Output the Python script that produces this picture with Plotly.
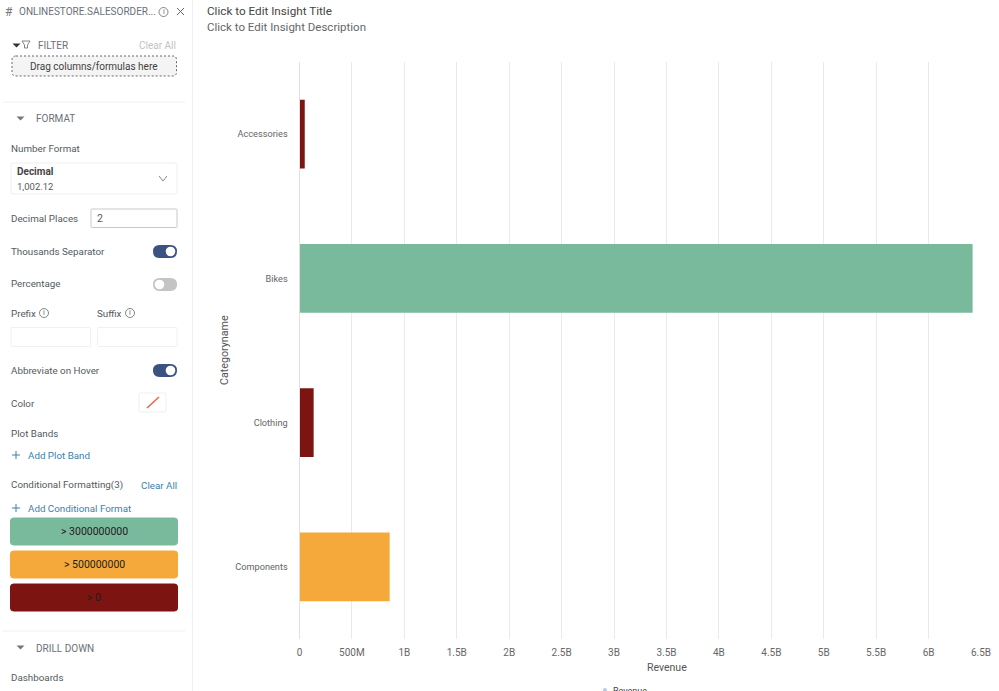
import plotly.graph_objects as go

W, H = 999, 691

categories = ["Accessories", "Bikes", "Clothing", "Components"]
revenue = [50000000, 6420000000, 135000000, 860000000]

tick_vals = [0, 5e8, 1e9, 1.5e9, 2e9, 2.5e9, 3e9, 3.5e9, 4e9, 4.5e9, 5e9, 5.5e9, 6e9, 6.5e9]
tick_text = ["0", "500M", "1B", "1.5B", "2B", "2.5B", "3B", "3.5B", "4B", "4.5B", "5B", "5.5B", "6B", "6.5B"]

thresholds = [3000000000, 500000000, 0]
threshold_colors = ["#7ABA9C", "#F5A93B", "#7C1512"]


def color_for(v):
    for t, c in zip(thresholds, threshold_colors):
        if v > t:
            return c
    return "#cccccc"


fig = go.Figure()
fig.add_trace(go.Bar(
    x=revenue, y=categories, orientation="h", name="Revenue",
    marker=dict(color=[color_for(v) for v in revenue], line_width=0),
    showlegend=False,
))

shapes = []
annots = []


def px(x):
    return x / W


def py(y):
    return 1 - y / H


def text(x, y, s, size=9.8, color="#555a60", anchor="left", **kw):
    annots.append(dict(x=px(x), y=py(y), xref="paper", yref="paper", text=s, showarrow=False,
                       xanchor=anchor, yanchor="middle", font=dict(size=size, color=color), **kw))


def rrect(x0, y0, x1, y1, r=3, fill="#ffffff", line="#ececec", width=1, dash="solid"):
    a, b, c, d = px(x0), py(y0), px(x1), py(y1)
    rx, ry = r / W, r / H
    path = (f"M {a+rx} {b} L {c-rx} {b} Q {c} {b} {c} {b-ry} L {c} {d+ry} Q {c} {d} {c-rx} {d} "
            f"L {a+rx} {d} Q {a} {d} {a} {d+ry} L {a} {b-ry} Q {a} {b} {a+rx} {b} Z")
    shapes.append(dict(type="path", path=path, xref="paper", yref="paper", fillcolor=fill,
                       line=dict(color=line, width=width, dash=dash), layer="below"))


def hline(x0, x1, y, color="#efefef", width=1):
    shapes.append(dict(type="line", xref="paper", yref="paper", x0=px(x0), x1=px(x1), y0=py(y), y1=py(y),
                       line=dict(color=color, width=width)))


def seg(x0, y0, x1, y1, color, width=1):
    shapes.append(dict(type="line", xref="paper", yref="paper", x0=px(x0), x1=px(x1), y0=py(y0), y1=py(y1),
                       line=dict(color=color, width=width)))


def circle(cx, cy, r, fill="#ffffff", line="rgba(0,0,0,0)", width=1):
    shapes.append(dict(type="circle", xref="paper", yref="paper", x0=px(cx - r), x1=px(cx + r),
                       y0=py(cy + r), y1=py(cy - r), fillcolor=fill, line=dict(color=line, width=width)))


def tri(x, y, w=4, h=4, color="#777777"):
    path = f"M {px(x-w)} {py(y-h/2)} L {px(x+w)} {py(y-h/2)} L {px(x)} {py(y+h/2)} Z"
    shapes.append(dict(type="path", path=path, xref="paper", yref="paper", fillcolor=color,
                       line=dict(color=color, width=0)))


def toggle(x0, x1, y, on=True):
    rrect(x0, y - 6.5, x1, y + 6.5, r=6.5, fill="#3B5283" if on else "#c4c4c4", line="rgba(0,0,0,0)")
    circle(x1 - 6.5 if on else x0 + 6.5, y, 4.8)


def info(cx, cy):
    circle(cx, cy, 4.5, fill="rgba(0,0,0,0)", line="#666666", width=0.8)
    text(cx, cy, "i", size=7, color="#666666", anchor="center")


# panel divider
seg(192.5, 0, 192.5, H, "#eef0f2")

# header
text(3, 12, "#", size=12, color="#777777")
text(17, 11.5, "ONLINESTORE.SALESORDER...", size=10, color="#6b7078")
info(163.5, 12)
seg(177, 8, 184, 15, "#666666")
seg(184, 8, 177, 15, "#666666")

# filter
tri(16.5, 45.5, color="#333333")
text(36, 45.5, "FILTER", size=10, color="#6b7078")
text(178, 45.5, "Clear All", size=10, color="#c2c2c2", anchor="right")
path = f"M {px(22)} {py(41)} L {px(30)} {py(41)} L {px(27.5)} {py(45)} L {px(27.5)} {py(48)} L {px(24.5)} {py(48)} L {px(24.5)} {py(45)} Z"
shapes.append(dict(type="path", path=path, xref="paper", yref="paper", line=dict(color="#666666", width=0.8)))
rrect(12, 56, 176.5, 76, r=4, fill="#f4f4f4", line="#666666", dash="2px,2px")
text(94, 66, "Drag columns/formulas here", size=10, color="#3f3f3f", anchor="center")
hline(3, 185, 102)

# format
tri(20.5, 118.5)
text(33.5, 119, "FORMAT", size=10, color="#6b7078")
text(9, 148.5, "Number Format")
rrect(11, 163, 177, 194, r=2, line="#efefef")
text(15, 172, "<b>Decimal</b>", color="#444444", size=10)
text(15, 186.5, "1,002.12", size=9.5)
seg(159, 176, 163, 181, "#888888")
seg(163, 181, 167, 176, "#888888")
text(9, 218, "Decimal Places")
rrect(91, 209, 177, 227.5, r=1, line="#c9c9c9")
text(95, 218, "2", size=10.5)
text(9, 251, "Thousands Separator")
toggle(153, 177, 251.5, True)
text(9, 284, "Percentage")
toggle(153, 177, 284.5, False)
text(9, 313.5, "Prefix")
info(44, 313)
text(95, 313.5, "Suffix")
info(130, 313)
rrect(11, 327.5, 90.5, 346.5, r=1, line="#f0f0f0")
rrect(97.5, 327.5, 177, 346.5, r=1, line="#f0f0f0")
text(9, 370, "Abbreviate on Hover")
toggle(153, 177, 370.5, True)
text(9, 403, "Color")
rrect(139, 393, 166, 412, r=2, line="#efefef")
seg(147, 408, 159, 397, "#e8663a", 1.5)
text(9, 433, "Plot Bands")
seg(12, 455, 20, 455, "#3d7fa8")
seg(16, 451, 16, 459, "#3d7fa8")
text(26, 455, "Add Plot Band", color="#3d7fa8")

# conditional formatting
text(9, 485, "Conditional Formatting(3)")
text(179, 485, "Clear All", color="#3d7fa8", anchor="right")
seg(12, 508, 20, 508, "#3d7fa8")
seg(16, 504, 16, 512, "#3d7fa8")
text(26, 508, "Add Conditional Format", color="#3d7fa8")
for top, t, c in zip([518, 551, 584], thresholds, threshold_colors):
    rrect(10.5, top, 177.5, top + 27, r=3, fill=c, line=c)
    text(94, top + 13.5, f"&gt; {t}", size=10.5, color="#1c1c1c", anchor="center")
hline(3, 185, 631)

# drill down
tri(20.5, 647.5)
text(33.5, 648, "DRILL DOWN", size=10, color="#6b7078")
text(9, 677.5, "Dashboards")

# insight heading
text(205, 11, "Click to Edit Insight Title", size=11.7, color="#444444")
text(205, 27, "Click to Edit Insight Description", size=11.5, color="#666666")

# axis titles sit off the plot centre in the reference, so they are annotations
text(667, 667, "Revenue", size=10.5, color="#555555", anchor="center")
text(224, 350, "Categoryname", size=10.7, color="#555555", anchor="center", textangle=-90)

# legend sits at the page bottom, cut off in the reference too
circle(605, 690, 2, fill="#b9c9e6")
text(611, 691, "Revenue", size=9, color="#444444")

fig.update_layout(
    width=W, height=H, autosize=False,
    margin=dict(l=0, r=0, t=0, b=0),
    paper_bgcolor="#ffffff", plot_bgcolor="#ffffff",
    font=dict(family="Roboto, sans-serif", color="#555555"),
    bargap=0.522,
    shapes=shapes, annotations=annots,
    xaxis=dict(
        domain=[px(299.5), px(981)], range=[0, 6.5e9], automargin=False,
        tickvals=tick_vals, ticktext=tick_text, tickfont=dict(size=10, color="#666666"),
        showgrid=True, gridcolor="#e9eaed", gridwidth=1,
        zeroline=False, showline=False, ticks="outside", ticklen=4, tickcolor="rgba(0,0,0,0)",
    ),
    yaxis=dict(
        domain=[py(639), py(62)], autorange="reversed", automargin=False,
        tickfont=dict(size=9.2, color="#666666"), ticks="", ticklabelstandoff=9,
        showgrid=False, zeroline=False, showline=True, linecolor="#dfe1e5",
    ),
)

fig.write_html("out.html", post_script="document.body.style.margin='0';", config=dict(displayModeBar=False))
